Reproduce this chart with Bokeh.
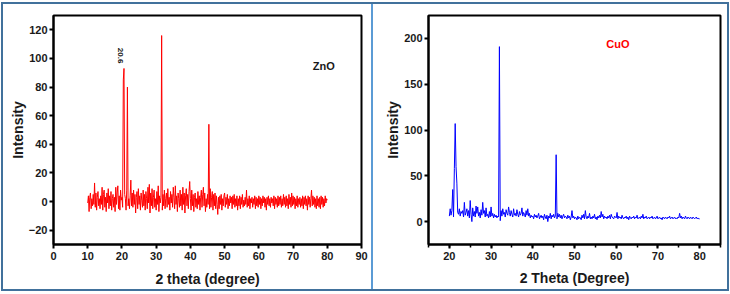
import math
import numpy as np
from bokeh.plotting import figure
from bokeh.layouts import row
from bokeh.models import Label, SingleIntervalTicker
from bokeh.embed import file_html
from bokeh.resources import INLINE

# ---------------- data ----------------
# ZnO diffractogram, 2-theta 10..80 deg sampled every 0.2 deg
zno_start, zno_stop = 10.0, 80.0
zno_intensity = [
    -1, 4, -7, 3, 6, -5, 2, -3, 5, -2,
    13, -4, 6, -6, 3, 7, -3, 2, -5, 4,
    -2, 10, -6, 5, 8, -4, 3, -7, 6, -1,
    9, -5, 4, -3, 7, -6, 2, 5, -4, 3,
    -7, 10, -2, 6, 11, -5, 4, -6, 8, 1,
    3, -4, 85, 93, 5, 2, -6, 8, 80, -3,
    2, -5, 4, 15, -3, 6, -4, 8, -2, 5,
    -8, 3, 7, -5, 9, -2, 4, -6, 6, 1,
    -4, 8, -3, 5, -6, 7, 2, -5, 10, -1,
    12, -8, 6, -3, 9, -5, 3, 8, -4, 2,
    -6, 7, -2, 11, -7, 4, -1, 3, 116, -6,
    5, -3, 8, -5, 2, 6, -4, 9, -2, 3,
    -6, 7, -1, 5, -4, 10, 3, -5, 11, -2,
    4, -7, 6, 2, -4, 8, -3, 5, -6, 10,
    -2, 6, -8, 4, 9, -3, 5, -5, 7, 14,
    2, -6, 8, -3, 5, -7, 3, 6, -4, 2,
    -5, 7, -2, 4, -6, 3, 8, -4, 5, 10,
    -3, 6, -7, 2, -4, 5, -2, 54, -5, 9,
    -4, 3, 7, -6, 5, -3, 6, -5, 4, -2,
    -9, 3, -5, 4, -2, 5, -6, 2, -3, 4,
    6, -4, 3, -2, 5, -5, 2, -3, 4, -1,
    3, -5, 4, -2, 5, -4, 2, -3, 4, -6,
    2, -3, 4, -5, 3, -2, 5, -4, 1, -3,
    3, -2, 8, -4, 2, -3, 4, -5, 2, -1,
    3, -4, 2, -2, 4, -5, 3, -3, 2, -4,
    4, -2, 3, -5, 2, -3, 4, -1, 3, -4,
    2, -6, 3, -2, 4, -3, 2, -4, 3, -1,
    2, -3, 4, -5, 3, -2, 2, -4, 4, -3,
    3, -2, 4, -4, 2, -3, 5, -2, 3, -4,
    4, -3, 2, -5, 5, -2, 3, -4, 6, -3,
    4, -2, 3, -5, 2, -3, 4, -4, 2, -2,
    3, -4, 2, -3, 4, -5, 3, -2, 4, -3,
    2, -6, 4, -2, 3, -4, 2, 8, -3, 4,
    -2, 3, -4, 2, -5, 4, -3, 2, -4, 3,
    -5, 4, -2, 3, -4, 2, -3, 4, -1, 2,
    1,
]

# CuO diffractogram, 2-theta 20..80 deg sampled every 0.2 deg
cuo_start, cuo_stop = 20.0, 80.0
cuo_intensity = [
    6, 14, 7, 12, 35, 5, 58, 107, 60, 42,
    10, 8, 14, 6, 11, 9, 12, 5, 21, 7,
    10, 14, 6, 12, 4, 23, 8, 0, 15, 6,
    11, 5, 17, 9, 16, 6, 10, 4, 13, 7,
    21, 9, 12, 5, 15, 6, 8, 4, 11, 5,
    16, 6, 9, 4, 8, 5, 7, 4, 6, 5,
    191, 1, 12, 6, 14, 8, 10, 5, 13, 9,
    7, 16, 10, 6, 12, 8, 5, 14, 7, 9,
    6, 13, 8, 5, 11, 7, 9, 15, 6, 10,
    8, 5, 12, 7, 14, 6, 9, 4, 7, 5,
    6, 3, 8, 5, 7, 4, 6, 9, 3, 5,
    7, 4, 6, 2, 8, 5, 3, 7, 0, 6,
    4, 9, 3, 7, 5, 8, 4, 6, 73, 3,
    9, 5, 8, 4, 7, 3, 6, 8, 4, 6,
    5, 3, 7, 4, 6, 2, 5, 12, 4, 6,
    3, 5, 4, 2, 6, 3, 5, 4, 2, 7,
    4, 8, 3, 12, 5, 3, 6, 4, 9, 3,
    5, 3, 6, 4, 8, 3, 5, 2, 6, 4,
    7, 4, 11, 5, 8, 3, 6, 4, 5, 3,
    6, 4, 7, 3, 8, 5, 4, 3, 6, 5,
    4, 10, 3, 6, 4, 5, 3, 7, 4, 3,
    5, 4, 6, 3, 5, 2, 6, 4, 3, 5,
    4, 6, 3, 5, 4, 7, 3, 4, 5, 3,
    6, 4, 8, 3, 5, 4, 6, 3, 4, 5,
    3, 5, 4, 6, 3, 4, 5, 3, 4, 6,
    3, 4, 5, 3, 4, 2, 5, 4, 3, 5,
    4, 3, 5, 4, 6, 3, 4, 5, 3, 4,
    5, 3, 4, 3, 5, 4, 9, 4, 6, 3,
    5, 4, 3, 6, 4, 3, 5, 4, 3, 5,
    4, 3, 5, 4, 3, 4, 5, 3, 4, 3,
    3,
]

zno_angle = np.round(np.linspace(zno_start, zno_stop, len(zno_intensity)), 2)
cuo_angle = np.round(np.linspace(cuo_start, cuo_stop, len(cuo_intensity)), 2)

peak_label_angle = 20.6
peak_label_text = "20.6"

FONT = "Liberation Sans"
TEXT = "#1a1a1a"


def style(p, title_x, title_y, x_interval, y_interval, x_minor):
    p.xgrid.visible = False
    p.ygrid.visible = False
    p.outline_line_color = "black"
    p.outline_line_width = 2
    p.background_fill_color = "white"
    p.border_fill_color = "white"
    p.xaxis.ticker = SingleIntervalTicker(interval=x_interval, num_minor_ticks=x_minor)
    p.yaxis.ticker = SingleIntervalTicker(interval=y_interval, num_minor_ticks=0)
    for ax in (p.xaxis[0], p.yaxis[0]):
        ax.axis_line_width = 2
        ax.axis_line_color = "black"
        ax.major_tick_line_width = 2
        ax.major_tick_line_color = "black"
        ax.minor_tick_line_width = 1.5
        ax.minor_tick_line_color = "black"
        ax.major_tick_in = 0
        ax.major_tick_out = 4
        ax.minor_tick_in = 0
        ax.minor_tick_out = 3 if x_minor else 0
        ax.major_label_text_font = FONT
        ax.major_label_text_font_style = "bold"
        ax.major_label_text_font_size = "11px"
        ax.major_label_text_color = TEXT
        ax.axis_label_text_font = FONT
        ax.axis_label_text_font_style = "bold"
        ax.axis_label_text_font_size = "14px"
        ax.axis_label_text_color = TEXT
    p.xaxis.axis_label = title_x
    p.yaxis.axis_label = title_y
    p.xaxis.major_label_standoff = 3
    p.xaxis.axis_label_standoff = 8
    p.yaxis.major_label_standoff = 2
    p.yaxis.axis_label_standoff = 0
    p.yaxis[0].minor_tick_out = 0


# ---------------- ZnO panel ----------------
p1 = figure(width=370, height=285, x_range=(0, 90), y_range=(-30, 130),
            output_backend="svg", toolbar_location=None,
            min_border_left=50, min_border_right=12,
            min_border_top=10, min_border_bottom=44)
style(p1, "2 theta (degree)", "Intensity", 10, 20, 0)
p1.line(zno_angle, zno_intensity, line_color="#ff0000", line_width=1)
p1.add_layout(Label(x=peak_label_angle, y=102, x_offset=-3, text=peak_label_text,
                    angle=-math.pi / 2, text_align="center", text_baseline="middle",
                    text_font=FONT, text_font_style="bold", text_font_size="8px",
                    text_color=TEXT))
p1.add_layout(Label(x=79, y=95, text="ZnO", text_align="center",
                    text_baseline="middle", text_font=FONT, text_font_style="bold",
                    text_font_size="11px", text_color=TEXT))
p1.styles = {"border-right": "2px solid #5b9bd5"}

# ---------------- CuO panel ----------------
p2 = figure(width=354, height=285, x_range=(15, 85), y_range=(-25, 225),
            output_backend="svg", toolbar_location=None,
            min_border_left=55, min_border_right=7,
            min_border_top=11, min_border_bottom=42)
style(p2, "2 Theta (Degree)", "Intensity", 10, 50, 2)
p2.xaxis.axis_label_standoff = 7
p2.line(cuo_angle, cuo_intensity, line_color="#0000ff", line_width=1)
p2.add_layout(Label(x=60.4, y=194, text="CuO", text_align="center",
                    text_baseline="middle", text_font=FONT, text_font_style="bold",
                    text_font_size="11px", text_color="#ff0000"))

layout = row(p1, p2, styles={"border": "2px solid #41719c", "margin": "2px 0 0 1px",
                             "background-color": "white"})

open("out.html", "w").write(file_html(layout, INLINE))
